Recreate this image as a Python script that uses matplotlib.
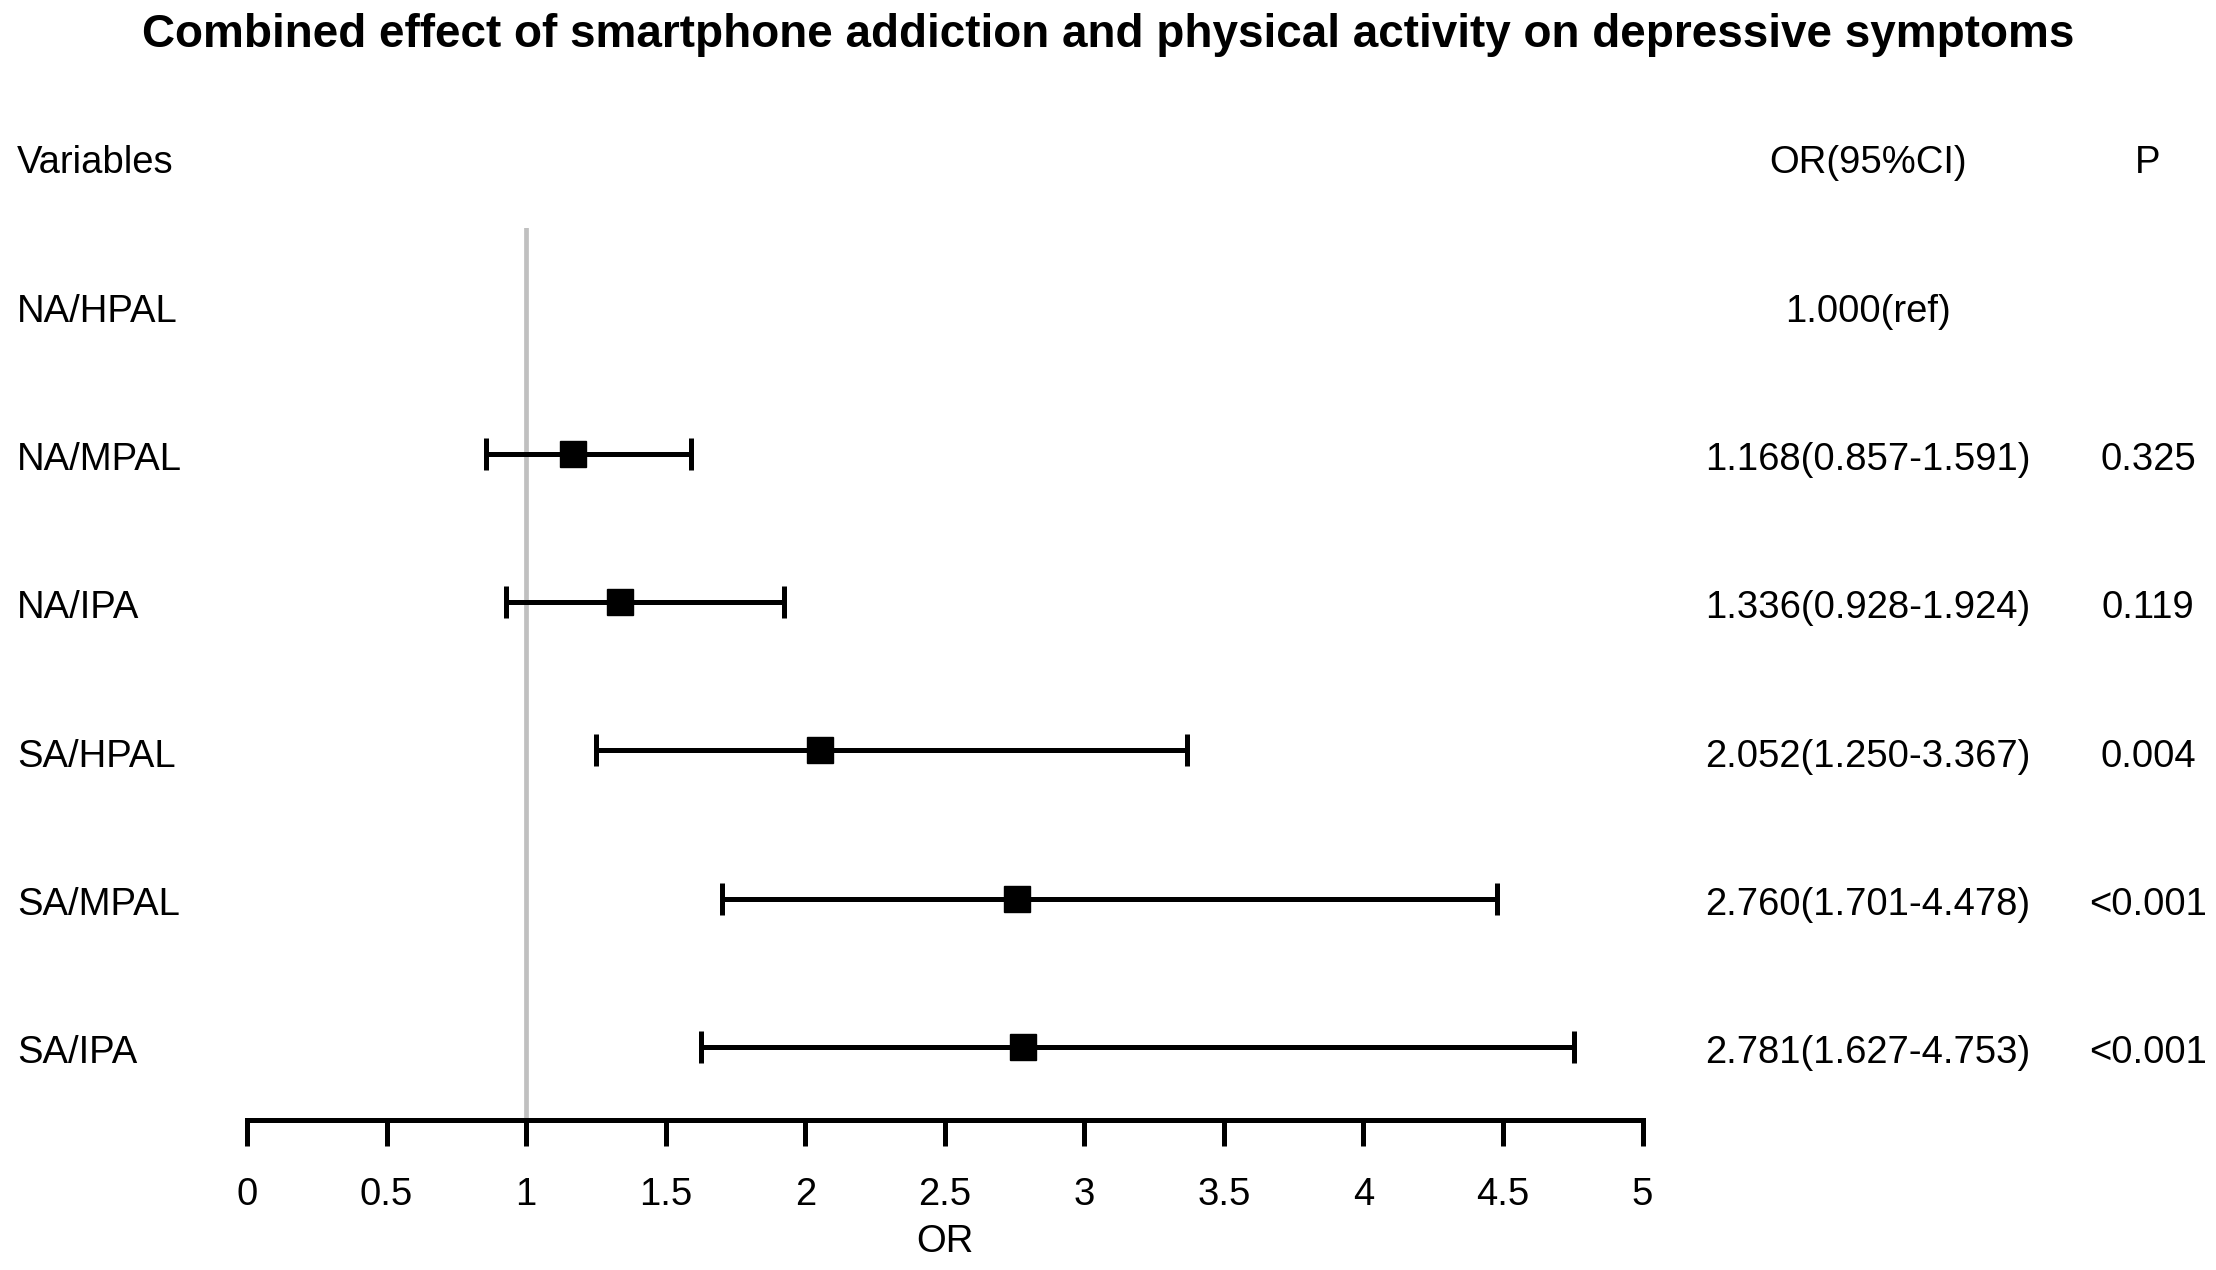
import matplotlib
matplotlib.use('Agg')
import matplotlib.pyplot as plt
import matplotlib.transforms as mtransforms

plt.rcParams['font.family'] = ['Liberation Sans', 'DejaVu Sans']

# data
variables = ['NA/HPAL', 'NA/MPAL', 'NA/IPA', 'SA/HPAL', 'SA/MPAL', 'SA/IPA']
odds = [1.000, 1.168, 1.336, 2.052, 2.760, 2.781]
ci_low = [None, 0.857, 0.928, 1.250, 1.701, 1.627]
ci_high = [None, 1.591, 1.924, 3.367, 4.478, 4.753]
or_text = ['1.000(ref)', '1.168(0.857-1.591)', '1.336(0.928-1.924)',
           '2.052(1.250-3.367)', '2.760(1.701-4.478)', '2.781(1.627-4.753)']
p_text = ['', '0.325', '0.119', '0.004', '<0.001', '<0.001']
xticks = [0, 0.5, 1, 1.5, 2, 2.5, 3, 3.5, 4, 4.5, 5]

W, H = 2216, 1270
fig = plt.figure(figsize=(W / 100, H / 100), dpi=100)

# axes placed in pixel terms: x from 247 to 1642, y from 228 to 1120
left, right = 247, 1642.5
top, bottom = 228, 1120
ax = fig.add_axes([left / W, 1 - bottom / H, (right - left) / W, (bottom - top) / H])

# rows: header at 0, data rows 1..6
row_px = 148.3
header_px = 157.0
y_top = (top - header_px) / row_px
y_bot = (bottom - header_px) / row_px
ax.set_ylim(y_bot, y_top)
ax.set_xlim(0, 5)

ax.axvline(1, color='#c0c0c0', lw=3.4, zorder=1)

for i, name in enumerate(variables):
    y = i + 1
    if ci_low[i] is not None:
        ax.errorbar(odds[i], y, xerr=[[odds[i] - ci_low[i]], [ci_high[i] - odds[i]]],
                    fmt='s', color='black', ms=18.5, lw=3.6, capsize=11.5, capthick=3.6,
                    zorder=3)

fs = 27.5
x_var, x_or, x_p = 17 / W, 1868 / W, 2148 / W
trans = mtransforms.blended_transform_factory(fig.transFigure, ax.transData)
# text baseline sits a little below the marker centre
trans = mtransforms.offset_copy(trans, fig=fig, y=-16.5, units='dots')
kw = dict(transform=trans, va='baseline', fontsize=fs, clip_on=False)
ax.text(x_var, 0, 'Variables', ha='left', **kw)
ax.text(x_or, 0, 'OR(95%CI)', ha='center', **kw)
ax.text(x_p, 0, 'P', ha='center', **kw)
for i, name in enumerate(variables):
    y = i + 1
    ax.text(x_var, y, name, ha='left', **kw)
    ax.text(x_or, y, or_text[i], ha='center', **kw)
    ax.text(x_p, y, p_text[i], ha='center', **kw)

for s in ['top', 'right', 'left']:
    ax.spines[s].set_visible(False)
ax.spines['bottom'].set_linewidth(3.6)
ax.set_yticks([])
ax.set_xticks(xticks)
ax.set_xticklabels([('%g' % t) for t in xticks], fontsize=fs)
ax.tick_params(axis='x', length=19, width=3.6, pad=22)
ax.set_xlabel('OR', fontsize=fs, labelpad=8)

fig.text(0.5, 1 - 47 / H, 'Combined effect of smartphone addiction and physical activity on depressive symptoms',
         ha='center', va='baseline', fontsize=33, fontweight='bold')

fig.savefig('out.png', dpi=100, facecolor='white')
